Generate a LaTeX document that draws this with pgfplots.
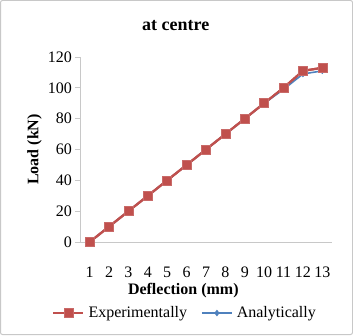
\documentclass[border=0pt]{standalone}
\usepackage{pgfplots}
\pgfplotsset{compat=1.18}
\usepackage{fontspec}
\setmainfont{Liberation Serif}
\definecolor{exred}{HTML}{C0504D}
\definecolor{anblue}{HTML}{4F81BD}
\definecolor{axgray}{HTML}{C8C8C8}
\pgfplotstableread{
x exp ana
1 0 0
2 10 10
3 20 20
4 30 30
5 40 40
6 50 50
7 60 60
8 70 70
9 80 80
10 90 90
11 100 99
12 111 109
13 113 111
}\datatable
\begin{document}
\begin{tikzpicture}[x=1pt,y=1pt]
\draw[axgray, line width=1pt, rounded corners=2pt] (0.5,0.5) rectangle (352.5,334.5);
\begin{axis}[
  at={(80pt,93pt)}, anchor=south west,
  scale only axis, width=252pt, height=185pt,
  xmin=0.5, xmax=13.5, ymin=0, ymax=120,
  xtick={1,...,13}, ytick={0,20,...,120},
  axis x line*=bottom, axis y line*=left,
  axis line style={axgray, line width=0.7pt, -},
  x tick style={draw=none},
  y tick style={axgray, line width=0.7pt},
  tick align=outside, major tick length=5pt,
  tick label style={font=\fontsize{16}{18}\selectfont},
  /pgf/number format/assume math mode=true,
  xticklabel style={anchor=center, yshift=-25pt},
  yticklabel style={anchor=east, inner sep=0pt, xshift=-3pt},
  title={\textbf{at centre}},
  title style={font=\fontsize{18}{20}\selectfont, at={(axis description cs:0.38,1)}, anchor=center, yshift=25pt},
  xlabel={\textbf{Deflection (mm)}},
  ylabel={\textbf{Load (kN)}},
  label style={font=\fontsize{16}{18}\selectfont},
  xlabel style={at={(axis description cs:0.41,-0.26)}, anchor=center},
  ylabel style={at={(axis description cs:-0.18,0.5)}, anchor=center},
  legend style={at={(axis description cs:0.417,-0.384)}, anchor=center, draw=none, fill=none,
    font=\fontsize{16}{18}\selectfont, legend columns=2,
    /tikz/every odd column/.append style={column sep=2pt},
    /tikz/every even column/.append style={column sep=12pt}},
  legend cell align=left,
  legend image code/.code={\draw[mark repeat=2,mark phase=2] plot coordinates {(0pt,0pt)(15pt,0pt)(30pt,0pt)};},
]
\addplot[exred, line width=2.2pt, mark=square*, mark size=4.5pt, mark options={fill=exred, draw=exred!85!white, line width=0.6pt}]
  table[x=x, y=exp] {\datatable};
\addplot[anblue, line width=1.6pt, mark=diamond*, mark size=3pt, mark options={fill=anblue, line width=0.4pt}]
  table[x=x, y=ana] {\datatable};
\addplot[forget plot, exred, line width=2.2pt, mark=square*, mark size=4.5pt, mark options={fill=exred, draw=exred!85!white, line width=0.6pt}]
  table[x=x, y=exp] {\datatable};
\legend{Experimentally, Analytically}
\end{axis}
\end{tikzpicture}
\end{document}
